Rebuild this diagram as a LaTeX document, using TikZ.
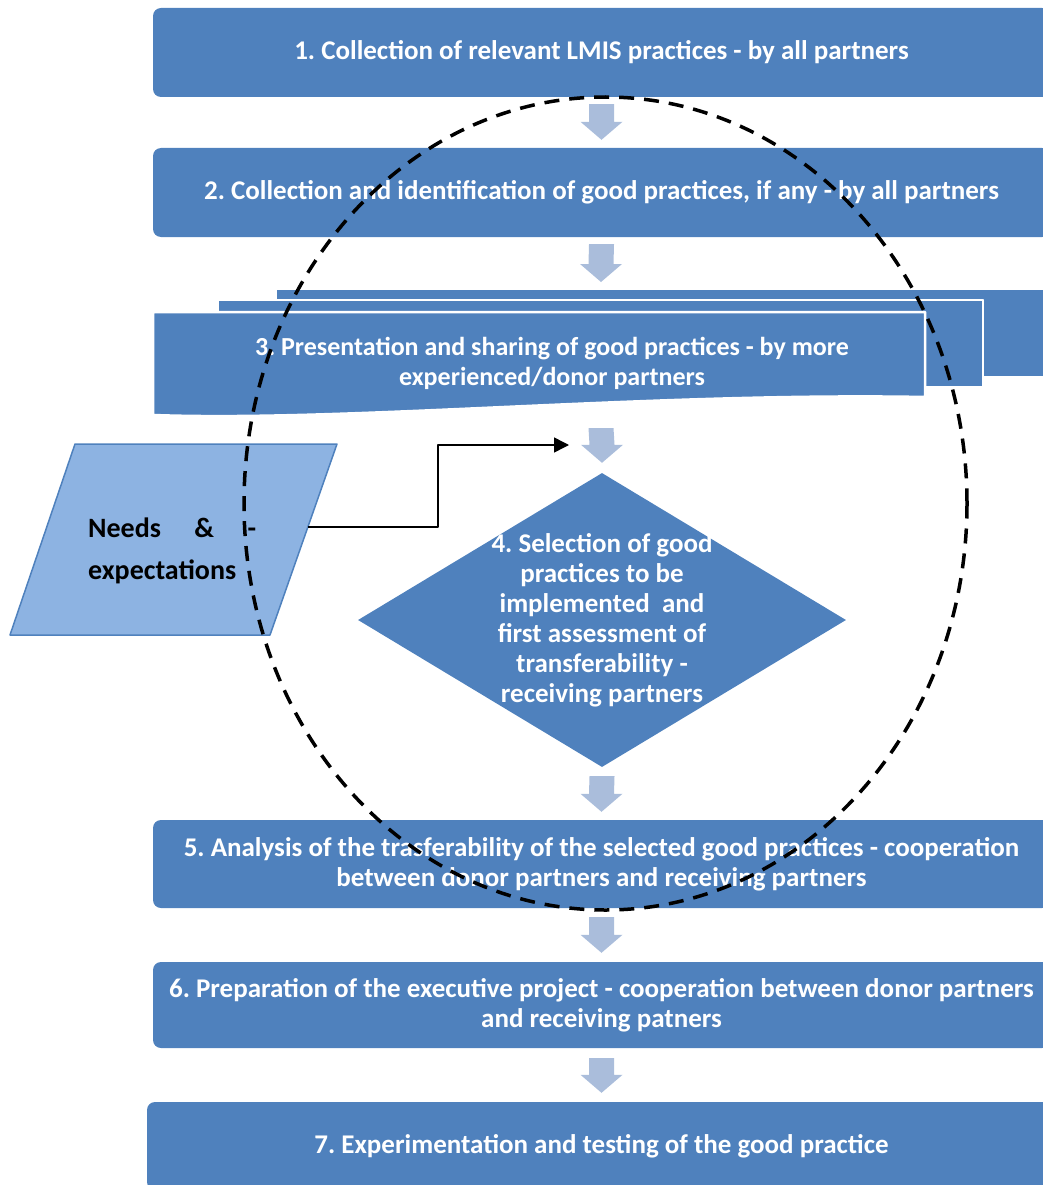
\documentclass[tikz,border=0pt]{standalone}
\usepackage{fontspec}
\setmainfont{Carlito}
\frenchspacing
\usetikzlibrary{calc,positioning,shapes.geometric,arrows.meta}
\definecolor{stepblue}{HTML}{4F81BD}
\definecolor{arrowblue}{HTML}{AABDDB}
\definecolor{needsblue}{HTML}{8DB3E2}
\tikzset{
  stepbox/.style={rectangle, rounded corners=8pt, fill=stepblue, text=white, align=center, inner sep=0pt, minimum width=897pt},
  choice/.style={diamond, fill=stepblue, inner sep=0pt, minimum width=488pt, minimum height=294pt},
  steptext/.style={text=white, align=center, inner sep=0pt},
  layer/.style={fill=stepblue, draw=white, line width=2.5pt},
  circ/.style={draw=black, line width=3.5pt, dash pattern=on 15pt off 10pt},
}
% block arrow from #1 (top of shaft) to #2 (tip)
\newcommand{\flowarrow}[2]{%
  \coordinate (fa1) at (#1); \coordinate (fa2) at (#2);
  \fill[arrowblue] ($(fa1)+(-12.5,0)$) -- ($(fa1)+(12.5,0)$) -- ($(fa2)+(12.5,-18)$) -- ($(fa2)+(21,-18)$)
    -- (fa2) -- ($(fa2)+(-21,-18)$) -- ($(fa2)+(-12.5,-18)$) -- cycle;}
\begin{document}
\begin{tikzpicture}[x=1pt, y=-1pt, font=\fontsize{27}{30}\selectfont\bfseries, line join=round]
\useasboundingbox (0,0) rectangle (1042,1185);
% steps 1-2
\node[stepbox, minimum height=89pt] (b1) at (601.5,52.5) {1. Collection of relevant LMIS practices - by all partners};
\node[stepbox, minimum height=89pt] (b2) at (601.5,192.5) {2. Collection and identification of good practices, if any - by all partners};
% step 3 (stacked documents)
\fill[layer] (276,289) rectangle (1060,377);
\fill[layer] (218,300) rectangle (983,387);
\filldraw[layer] (153,312) -- (925,312) -- (925,397) .. controls (650,392) and (350,422) .. (153,415) -- cycle;
\draw[white, line width=2.5pt] (276,289) -- (1060,289);
\draw[white, line width=2.5pt] (218,300) -- (983,300) -- (983,387);
\node[steptext, font=\fontsize{26}{30}\selectfont\bfseries] (b3) at (552,363) {3. Presentation and sharing of good practices - by more\\experienced/donor partners};
\coordinate (b3top) at (601,289);
\coordinate (b3bot) at (601,418);
% step 4
\node[choice] (b4) at (602,620) {};
\node[steptext] at (b4.center) {4. Selection of good\\practices to be\\implemented\ \ and\\first assessment of\\transferability -\\receiving partners};
% steps 5-7
\node[stepbox, minimum height=88pt] (b5) at (601.5,864) {5. Analysis of the trasferability of the selected good practices - cooperation\\between donor partners and receiving partners};
\node[stepbox, minimum height=86pt] (b6) at (601.5,1005) {6. Preparation of the executive project - cooperation between donor partners\\and receiving patners};
\node[stepbox, minimum height=88pt, minimum width=909pt] (b7) at (601.5,1146) {7. Experimentation and testing of the good practice};
% arrows
\flowarrow{$(b1.south)+(0,7)$}{$(b2.north)+(0,-8)$}
\flowarrow{$(b2.south)+(0,7)$}{$(b3top)+(0,-7)$}
\flowarrow{$(b3bot)+(0,10)$}{$(b4.north)+(0,-10)$}
\flowarrow{$(b4.south)+(0,9)$}{$(b5.north)+(0,-8)$}
\flowarrow{$(b5.south)+(0,9)$}{$(b6.north)+(0,-9)$}
\flowarrow{$(b6.south)+(0,10)$}{$(b7.north)+(0,-9)$}
% needs & expectations
\filldraw[fill=needsblue, draw=stepblue, line width=1.5pt] (75,444) -- (337,444) -- (270,635) -- (10,635) -- cycle;
\node[anchor=west, align=left, inner sep=0pt, font=\fontsize{28}{42}\selectfont\bfseries] (needs) at (88,551) {\makebox[168pt][s]{Needs\hfill\&\hfill-}\\expectations};
\coordinate (needsout) at (308,527);
\coordinate (needsin) at (569,445);
\draw[-{Triangle[length=15pt,width=15pt]}, line width=1.5pt] (needsout) -- ++(130,0) |- (needsin);
% dashed circle
\draw[circ] (605.5,503.5) ellipse [x radius=361.5, y radius=406.5];
\end{tikzpicture}
\end{document}
